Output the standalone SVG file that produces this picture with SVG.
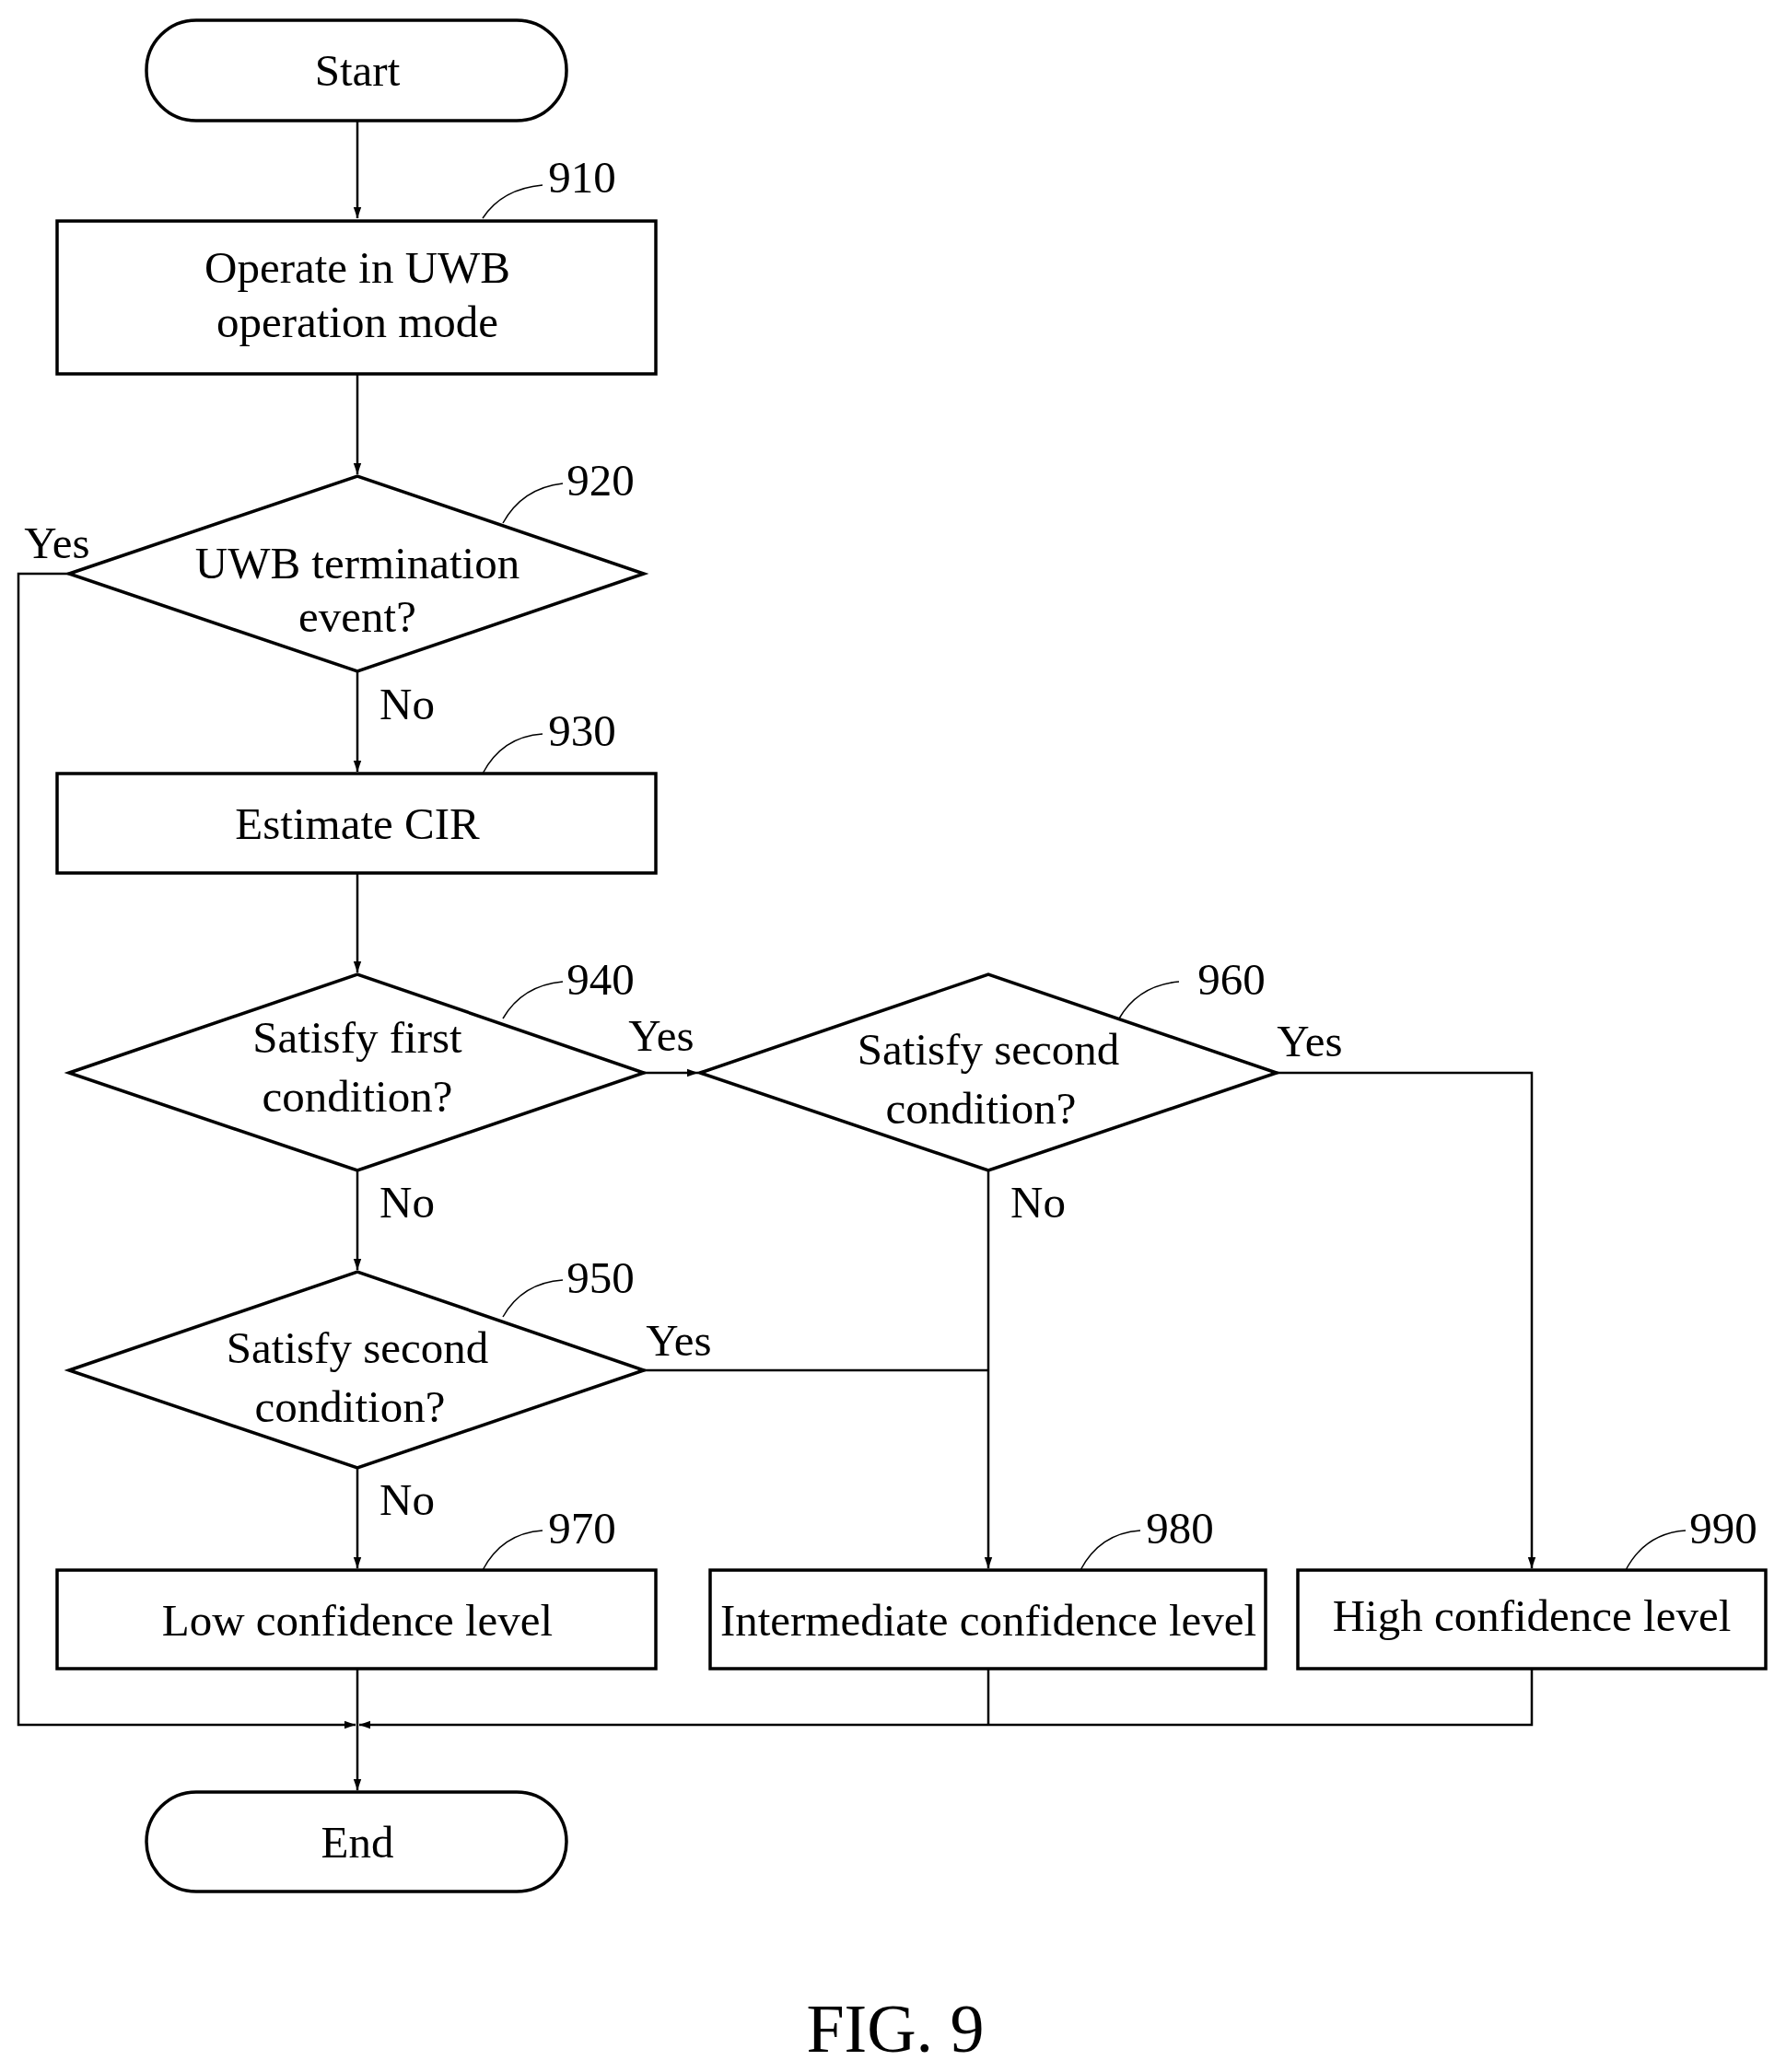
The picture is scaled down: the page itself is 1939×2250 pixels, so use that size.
<svg xmlns="http://www.w3.org/2000/svg" width="1939" height="2250" viewBox="0 0 1939 2250">
<style>
.s{fill:#fff;stroke:#000;stroke-width:3.5}
.c{fill:none;stroke:#000;stroke-width:2.5}
.l{fill:none;stroke:#000;stroke-width:1.5}
text{font-family:"Liberation Serif",serif;font-size:49px;fill:#000}
.m{text-anchor:middle;dominant-baseline:central}
</style>
<defs><marker id="a" viewBox="0 0 10 10" refX="10" refY="5" markerWidth="12" markerHeight="12" markerUnits="userSpaceOnUse" orient="auto"><path d="M0,1.5L10,5L0,8.5z" fill="#000"/></marker></defs>
<rect width="1939" height="2250" fill="#fff"/>
<g id="connectors">
<path class="c" d="M388,131V237" marker-end="url(#a)"/>
<path class="c" d="M388,406V515" marker-end="url(#a)"/>
<path class="c" d="M388,729V838" marker-end="url(#a)"/>
<path class="c" d="M388,948V1056" marker-end="url(#a)"/>
<path class="c" d="M388,1271V1379" marker-end="url(#a)"/>
<path class="c" d="M388,1594V1703" marker-end="url(#a)"/>
<path class="c" d="M699,1165H758" marker-end="url(#a)"/>
<path class="c" d="M1073,1271V1703" marker-end="url(#a)"/>
<path class="c" d="M699,1488H1073"/>
<path class="c" d="M1386,1165H1663V1703" marker-end="url(#a)"/>
<path class="c" d="M388,1812V1944" marker-end="url(#a)"/>
<path class="c" d="M75,623H20V1873H386" marker-end="url(#a)"/>
<path class="c" d="M1663,1812V1873H390" marker-end="url(#a)"/>
<path class="c" d="M1073,1812V1873"/>
<path class="l" d="M524,237Q545,205 589,201M546,568Q567,530 611,525M524,840Q545,800 589,797M546,1106Q567,1070 611,1066M546,1430Q567,1393 611,1390M1215,1106Q1236,1070 1280,1066M524,1705Q545,1665 589,1662M1173,1705Q1194,1665 1238,1662M1765,1705Q1786,1665 1830,1662"/>
<text x="62" y="589" class="m">Yes</text>
<text x="442" y="764" class="m">No</text>
<text x="718" y="1124" class="m">Yes</text>
<text x="1422" y="1130" class="m">Yes</text>
<text x="442" y="1305" class="m">No</text>
<text x="1127" y="1305" class="m">No</text>
<text x="737" y="1455" class="m">Yes</text>
<text x="442" y="1628" class="m">No</text>
</g>
<g id="start"><rect class="s" x="159" y="22" width="456" height="109" rx="54"/><text x="388" y="76" class="m">Start</text></g>
<g id="n910"><rect class="s" x="62" y="240" width="650" height="166"/><text x="388" y="290" class="m">Operate in UWB</text><text x="388" y="349" class="m">operation mode</text><text x="632" y="192" class="m">910</text></g>
<g id="n920"><path class="s" d="M75,623L388,517L699,623L388,729Z"/><text x="388" y="611" class="m">UWB termination</text><text x="388" y="669" class="m">event?</text><text x="652" y="521" class="m">920</text></g>
<g id="n930"><rect class="s" x="62" y="840" width="650" height="108"/><text x="388" y="894" class="m">Estimate CIR</text><text x="632" y="793" class="m">930</text></g>
<g id="n940"><path class="s" d="M75,1165L388,1058L699,1165L388,1271Z"/><text x="388" y="1126" class="m">Satisfy first</text><text x="388" y="1190" class="m">condition?</text><text x="652" y="1063" class="m">940</text></g>
<g id="n960"><path class="s" d="M760,1165L1073,1058L1386,1165L1073,1271Z"/><text x="1073" y="1139" class="m">Satisfy second</text><text x="1065" y="1203" class="m">condition?</text><text x="1337" y="1063" class="m">960</text></g>
<g id="n950"><path class="s" d="M75,1488L388,1381L699,1488L388,1594Z"/><text x="388" y="1463" class="m">Satisfy second</text><text x="380" y="1527" class="m">condition?</text><text x="652" y="1387" class="m">950</text></g>
<g id="n970"><rect class="s" x="62" y="1705" width="650" height="107"/><text x="388" y="1759" class="m">Low confidence level</text><text x="632" y="1659" class="m">970</text></g>
<g id="n980"><rect class="s" x="771" y="1705" width="603" height="107"/><text x="1073" y="1759" class="m">Intermediate confidence level</text><text x="1281" y="1659" class="m">980</text></g>
<g id="n990"><rect class="s" x="1409" y="1705" width="508" height="107"/><text x="1663" y="1754" class="m">High confidence level</text><text x="1871" y="1659" class="m">990</text></g>
<g id="end"><rect class="s" x="159" y="1946" width="456" height="108" rx="54"/><text x="388" y="2000" class="m">End</text></g>
<text x="972" y="2203" class="m" style="font-size:74px">FIG. 9</text>
</svg>
